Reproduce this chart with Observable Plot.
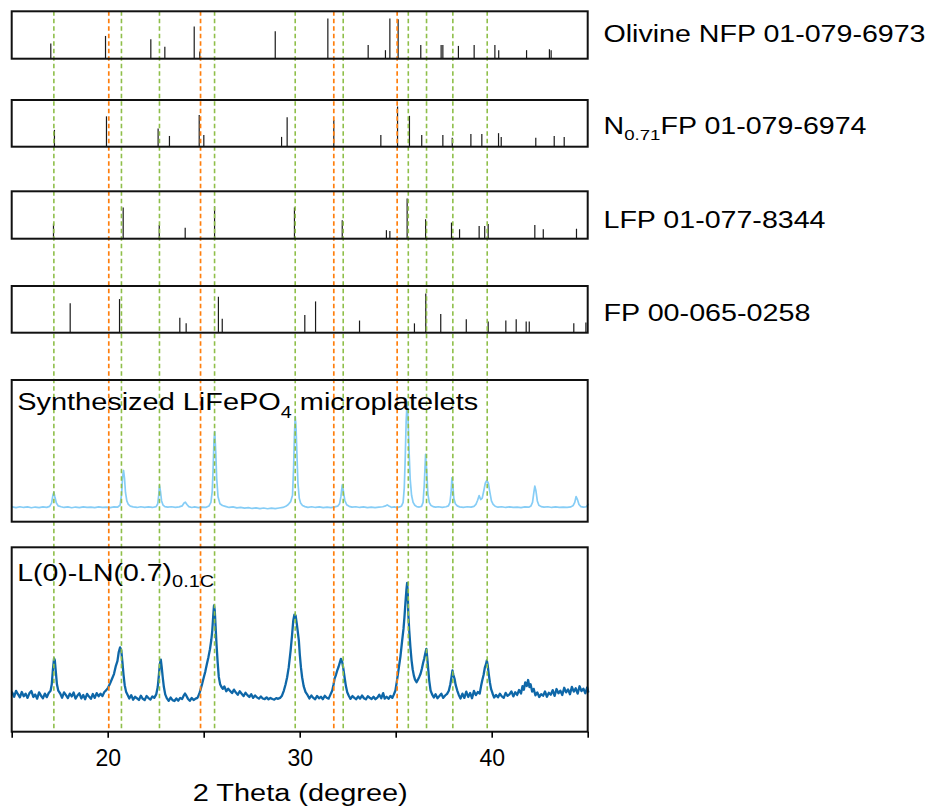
<!DOCTYPE html>
<html><head><meta charset="utf-8">
<script src="https://cdn.jsdelivr.net/npm/d3@7"></script>
<script src="https://cdn.jsdelivr.net/npm/@observablehq/plot@0.6"></script>
<style>
html,body{margin:0;padding:0;background:#fff;overflow:hidden;}
#chart{width:933px;height:808px;}
</style></head><body><div id="chart"></div>
<script>
// ---------------- DATA ----------------
// reference patterns: [2theta (deg), relative intensity (% of panel height)]
const olivineNFP = [[17.01,32],[19.86,48],[22.22,41],[22.95,25],[24.48,68],[24.77,15],[28.70,58],[31.44,85],[33.54,29],[34.44,18],[34.67,85],[35.10,83],[36.28,29],[37.34,29],[37.43,29],[38.24,27],[39.06,29],[40.14,29],[40.34,18],[41.79,18],[42.98,20],[43.07,18]];
const n071FP = [[17.20,36],[19.91,65],[22.60,39],[23.19,23],[24.74,68],[24.98,25],[29.03,21],[29.32,63],[31.75,57],[34.20,25],[35.07,86],[35.69,66],[36.33,25],[37.43,25],[37.92,19],[38.89,27],[39.46,27],[40.33,29],[40.47,21],[42.27,19],[43.23,23],[43.75,21]];
const lfp = [[17.15,32],[20.78,66],[22.66,29],[24.01,23],[25.54,68],[29.70,66],[32.19,39],[34.49,18],[34.67,16],[35.57,85],[36.53,41],[37.88,34],[38.30,20],[39.32,27],[39.61,27],[39.79,31],[42.22,29],[42.66,20],[44.39,21]];
const fp = [[18.02,63],[20.59,72],[23.73,32],[24.06,20],[25.74,77],[25.94,30],[30.24,38],[30.80,67],[33.09,26],[35.95,20],[36.54,84],[37.32,40],[38.65,29],[39.79,24],[40.71,26],[41.25,29],[41.77,24],[41.93,24],[44.25,20],[44.88,22]];

// measured patterns: [2theta (deg), intensity (% of panel height)]
const synthesized = [[15.0,10.8],[15.2,10.3],[15.4,10.9],[15.6,10.4],[15.8,10.8],[16.0,10.2],[16.2,10.7],[16.4,10.3],[16.6,10.8],[16.8,10.5],[16.95,11.2],[17.05,13.5],[17.12,19],[17.17,21.2],[17.22,18],[17.3,13.5],[17.4,11.5],[17.55,10.9],[17.7,10.4],[17.9,10.8],[18.1,10.2],[18.3,10.7],[18.5,10.3],[18.7,10.8],[18.9,10.4],[19.1,10.7],[19.3,10.3],[19.5,10.8],[19.7,10.4],[19.9,10.6],[20.1,10.3],[20.3,10.8],[20.5,10.7],[20.62,12],[20.7,20],[20.75,32],[20.8,36.5],[20.85,31],[20.9,21],[20.97,15],[21.05,12.5],[21.15,11.3],[21.3,10.8],[21.5,10.4],[21.7,10.9],[21.9,10.5],[22.1,10.8],[22.3,10.4],[22.5,11.0],[22.58,13],[22.63,19],[22.67,25.9],[22.72,22],[22.78,15],[22.86,12],[22.95,11],[23.1,10.6],[23.3,10.9],[23.5,10.5],[23.7,10.8],[23.85,11.5],[23.95,13.5],[24.02,14.1],[24.1,12.5],[24.2,11],[24.35,10.4],[24.5,10.8],[24.7,10.3],[24.9,10.7],[25.1,10.5],[25.25,11.5],[25.35,14],[25.42,22],[25.47,40],[25.51,58],[25.55,64],[25.6,50],[25.65,31],[25.72,18],[25.82,13],[25.95,11.8],[26.1,11.2],[26.3,10.4],[26.5,10.8],[26.7,10.1],[26.9,10.5],[27.1,9.9],[27.3,10.3],[27.5,9.7],[27.7,10.1],[27.9,9.6],[28.1,10.0],[28.3,9.5],[28.5,9.9],[28.7,9.6],[28.9,10.0],[29.1,10.4],[29.25,11.2],[29.38,12.5],[29.5,14.5],[29.6,19],[29.66,40],[29.7,62],[29.74,74.6],[29.78,68],[29.83,48],[29.88,28],[29.95,17],[30.02,13.5],[30.12,11.8],[30.25,11],[30.4,10.5],[30.6,10.9],[30.8,10.4],[31.0,10.8],[31.2,10.3],[31.4,10.7],[31.6,10.3],[31.8,10.8],[31.95,11.3],[32.05,13],[32.12,18],[32.19,26.4],[32.25,22],[32.32,15.5],[32.42,12.3],[32.55,11.2],[32.7,10.6],[32.9,10.9],[33.1,10.4],[33.3,10.8],[33.5,10.3],[33.7,10.7],[33.9,10.3],[34.1,10.6],[34.3,10.9],[34.45,11.5],[34.53,12.2],[34.62,11.4],[34.75,10.5],[34.9,10.8],[35.05,10.3],[35.18,10.8],[35.28,11.5],[35.36,14],[35.42,24],[35.47,45],[35.52,72],[35.57,84.7],[35.62,72],[35.67,50],[35.73,30],[35.8,19],[35.88,14],[35.97,12],[36.07,11],[36.2,10.7],[36.32,11.2],[36.4,14],[36.46,26],[36.53,47.8],[36.59,36],[36.65,20],[36.72,14],[36.8,12],[36.92,11],[37.05,10.6],[37.2,10.9],[37.4,10.5],[37.6,10.9],[37.72,11.5],[37.8,14],[37.86,21],[37.9,31.3],[37.95,26],[38.0,17],[38.08,13],[38.18,11.5],[38.3,10.8],[38.5,10.5],[38.7,10.9],[38.9,10.6],[39.05,11.2],[39.15,12.5],[39.24,15.5],[39.32,18.8],[39.4,16],[39.48,17],[39.56,22],[39.64,27.5],[39.72,29.4],[39.8,27.5],[39.88,21],[39.96,15],[40.05,12.5],[40.15,11.3],[40.3,10.6],[40.5,10.9],[40.7,10.4],[40.9,10.8],[41.1,10.4],[41.3,10.7],[41.5,10.3],[41.7,10.8],[41.9,10.6],[42.02,11.5],[42.1,14],[42.17,21],[42.22,25.4],[42.28,22],[42.35,15],[42.43,12],[42.55,11],[42.7,10.6],[42.9,10.9],[43.1,10.4],[43.3,10.8],[43.5,10.4],[43.7,10.7],[43.9,10.4],[44.1,10.8],[44.22,11.8],[44.3,14],[44.37,18.1],[44.44,16],[44.52,12.5],[44.62,11],[44.75,10.6],[44.9,10.9],[45.0,12.5]];

const lnCycled = [[15.0,21.5],[15.1,19.2],[15.2,22.4],[15.3,20.6],[15.4,18.9],[15.5,21.8],[15.6,19.5],[15.7,20.9],[15.8,18.6],[15.9,21.2],[16.0,22.3],[16.1,19.1],[16.2,20.4],[16.3,18.2],[16.4,21.6],[16.5,19.8],[16.6,18.4],[16.7,20.9],[16.8,19.0],[16.9,21.3],[17.0,22.5],[17.06,26],[17.12,34],[17.18,40],[17.22,39],[17.27,33],[17.33,26],[17.4,22.5],[17.5,21],[17.6,18.7],[17.7,21.6],[17.8,20.1],[17.9,18.5],[18.0,20.9],[18.1,19.4],[18.2,21.5],[18.3,18.2],[18.4,19.9],[18.5,21.1],[18.6,18.3],[18.7,20.2],[18.8,17.9],[18.9,20.8],[19.0,19.3],[19.1,18.1],[19.2,20.7],[19.3,18.6],[19.4,21.2],[19.5,19.5],[19.6,20.9],[19.7,19.6],[19.8,21.8],[19.9,22.8],[20.0,24.2],[20.1,26.5],[20.2,29],[20.3,31.5],[20.4,36],[20.48,38.5],[20.55,43.5],[20.62,46],[20.68,44.5],[20.74,38],[20.8,31],[20.86,25.5],[20.93,22],[21.0,20.5],[21.1,18.3],[21.2,20.1],[21.3,17.6],[21.4,19.2],[21.5,18.4],[21.6,17.5],[21.7,19.8],[21.8,18.1],[21.9,17.4],[22.0,19.6],[22.1,18.5],[22.2,17.7],[22.3,19.4],[22.4,18.6],[22.5,20.5],[22.58,24.5],[22.64,31],[22.69,37],[22.74,39.3],[22.79,35],[22.84,29.8],[22.9,24.5],[22.97,20.5],[23.05,18.5],[23.15,17.0],[23.25,18.8],[23.35,17.4],[23.45,16.9],[23.55,18.3],[23.65,17.1],[23.75,18.6],[23.85,18.0],[23.93,19.8],[24.0,21],[24.07,19.8],[24.15,18.2],[24.25,17.0],[24.35,18.6],[24.45,17.4],[24.55,18.2],[24.65,18.6],[24.75,21],[24.82,23.5],[24.9,26.5],[24.98,29.8],[25.06,33],[25.14,37],[25.22,40.7],[25.3,45],[25.37,50],[25.42,55],[25.47,63],[25.51,68.7],[25.55,66],[25.6,56],[25.64,48],[25.7,38],[25.76,30],[25.83,26],[25.9,24.5],[25.97,23.5],[26.05,24.8],[26.15,22.2],[26.25,23.6],[26.35,22.4],[26.45,21.2],[26.55,23.1],[26.65,21.5],[26.75,20.3],[26.85,22.2],[26.95,20.9],[27.05,19.6],[27.15,21.4],[27.25,20.1],[27.35,19.1],[27.45,20.6],[27.55,18.6],[27.65,19.9],[27.75,18.9],[27.85,18.2],[27.95,19.4],[28.05,18.3],[28.15,17.9],[28.25,18.9],[28.35,17.8],[28.45,18.6],[28.55,18.0],[28.65,17.7],[28.75,18.5],[28.85,18.1],[28.95,18.6],[29.05,19.8],[29.15,22.6],[29.24,26],[29.32,29.8],[29.4,35],[29.5,44.3],[29.57,52],[29.64,60.6],[29.7,63.8],[29.76,63.3],[29.82,59],[29.88,54],[29.93,49.7],[29.98,42],[30.04,35],[30.1,29.8],[30.18,25],[30.28,21.7],[30.38,20.2],[30.48,18.3],[30.58,19.9],[30.68,18.6],[30.78,17.9],[30.88,19.7],[30.98,18.4],[31.08,19.2],[31.18,17.9],[31.28,19.8],[31.38,18.7],[31.48,18.2],[31.58,20.5],[31.67,22.6],[31.74,26],[31.79,29],[31.86,31],[31.93,33.5],[32.0,35.5],[32.07,38],[32.12,39.8],[32.18,38.5],[32.24,35],[32.31,29.8],[32.38,25],[32.45,21.7],[32.53,19.8],[32.62,18.1],[32.72,19.6],[32.82,18.6],[32.92,17.9],[33.02,19.4],[33.12,18.2],[33.22,19.9],[33.32,18.4],[33.42,17.8],[33.52,19.5],[33.62,18.7],[33.72,18.0],[33.82,19.2],[33.92,17.9],[34.02,18.8],[34.12,20.3],[34.22,18.4],[34.32,21.2],[34.4,18.2],[34.5,19.2],[34.6,18.1],[34.7,19.7],[34.8,18.6],[34.88,20.5],[34.96,22.6],[35.04,28],[35.14,35.2],[35.22,41],[35.31,49.7],[35.38,56],[35.43,62.4],[35.48,70],[35.53,77],[35.57,81],[35.6,76],[35.63,64.2],[35.68,55],[35.74,46.1],[35.8,39],[35.86,34],[35.92,30.7],[35.98,28.5],[36.06,27.1],[36.13,28.5],[36.2,30],[36.27,31.7],[36.34,34.5],[36.4,37.5],[36.46,40],[36.52,43],[36.57,45.2],[36.62,40],[36.67,34],[36.72,28],[36.79,22.6],[36.87,20.5],[36.96,18.8],[37.05,20.6],[37.15,18.4],[37.25,19.6],[37.35,20.9],[37.45,18.6],[37.55,19.9],[37.65,20.8],[37.74,22.5],[37.82,26],[37.88,30],[37.93,33.5],[37.98,31],[38.04,29],[38.1,25.5],[38.18,22.6],[38.26,20.2],[38.35,18.3],[38.45,20.9],[38.55,18.6],[38.65,22.0],[38.75,19.1],[38.85,21.3],[38.95,18.4],[39.05,22.4],[39.15,20.1],[39.25,21.8],[39.35,21],[39.42,25],[39.48,28],[39.55,31],[39.62,35.2],[39.68,37],[39.72,38.9],[39.77,36],[39.82,31.5],[39.88,27],[39.94,23.5],[40.02,21],[40.1,18.8],[40.2,20.2],[40.3,18.9],[40.4,20.9],[40.5,19.4],[40.6,18.6],[40.7,21.3],[40.8,19.7],[40.9,20.5],[41.0,22.1],[41.1,19.4],[41.2,21.7],[41.3,20.2],[41.4,22.9],[41.5,21],[41.58,25],[41.65,23],[41.72,27],[41.8,25],[41.87,28.3],[41.94,24.5],[42.0,26],[42.08,22],[42.16,23.5],[42.25,20],[42.35,21.6],[42.45,19.1],[42.55,20.6],[42.65,19.8],[42.75,22.1],[42.85,19.2],[42.95,21.4],[43.05,20.3],[43.15,22.8],[43.25,19.7],[43.35,23.4],[43.45,21.1],[43.55,22.5],[43.65,20.2],[43.75,24.1],[43.85,21.6],[43.95,23.2],[44.05,20.6],[44.15,24.6],[44.25,22.0],[44.35,23.8],[44.45,20.9],[44.55,24.9],[44.65,22.3],[44.75,23.6],[44.85,21.1],[44.95,24.3],[45.0,22]];

// guide lines (2theta)
const greenLines = [17.17, 20.69, 22.67, 25.54, 29.74, 32.24, 35.63, 36.58, 37.95, 39.74];
const orangeLines = [20.03, 24.81, 31.75, 35.05];

// texts
const panelLabels = ["Olivine NFP 01-079-6973", "N0.71FP 01-079-6974", "LFP 01-077-8344", "FP 00-065-0258"];
const traceLabels = ["Synthesized LiFePO4 microplatelets", "L(0)-LN(0.7)0.1C"];
const xTicks = [15, 20, 25, 30, 35, 40, 45];
const xTickLabels = [20, 30, 40];
const xLabel = "2 Theta (degree)";

// ---------------- LAYOUT ----------------
const panelBox = [
  {top: 11.3, bottom: 58.7}, {top: 100, bottom: 146.7}, {top: 191.3, bottom: 238.7},
  {top: 286, bottom: 332.7}, {top: 380, bottom: 521.7}, {top: 547.3, bottom: 731.7}
];
const labelBaseline = [41.7, 133.3, 227.3, 320];
const traceLabelBaseline = [409.3, 580];
const toY = (p, v) => panelBox[p].bottom - v / 100 * (panelBox[p].bottom - panelBox[p].top);

const sticks = [olivineNFP, n071FP, lfp, fp].flatMap((set, p) => set.map(([t, v]) => ({t, v, p})));

const FONT = "'Liberation Sans', Arial, Helvetica, sans-serif";

const chart = Plot.plot({
  width: 933, height: 808,
  marginLeft: 11.7, marginRight: 345.3, marginTop: 0, marginBottom: 76.3,
  style: {fontFamily: FONT, fontSize: "23px", background: "#fff", color: "#000"},
  x: {domain: [15, 45]},
  y: {domain: [0, 731.7], range: [0, 731.7], axis: null},
  marks: [
    Plot.ruleX(sticks, {x: "t", y1: d => toY(d.p, 0), y2: d => toY(d.p, d.v), stroke: "#1a1a1a", strokeWidth: 1.2}),
    Plot.line(synthesized, {x: d => d[0], y: d => toY(4, d[1]), stroke: "#86cdf6", strokeWidth: 1.7}),
    Plot.line(lnCycled, {x: d => d[0], y: d => toY(5, d[1]), stroke: "#0e67a8", strokeWidth: 2.3}),
    Plot.ruleX(greenLines, {y1: panelBox[0].top, y2: panelBox[5].bottom, stroke: "#8fbf4a", strokeWidth: 1.6, strokeDasharray: "4.5,3"}),
    Plot.ruleX(orangeLines, {y1: panelBox[0].top, y2: panelBox[5].bottom, stroke: "#ff7f0e", strokeWidth: 1.7, strokeDasharray: "4.5,3"}),
    Plot.rect(panelBox, {x1: 15, x2: 45, y1: "top", y2: "bottom", fill: "none", stroke: "#111", strokeWidth: 2}),
    Plot.axisX({ticks: xTicks, tickFormat: d => xTickLabels.includes(d) ? String(d) : "", tickSize: 6, tickPadding: 11, fontSize: 23, strokeWidth: 1.6, label: null}),
    Plot.text(panelLabels, {x: 45, dx: 15.3, y: (d, i) => labelBaseline[i], text: d => d, textAnchor: "start", lineAnchor: "bottom", fontSize: 23}),
    Plot.text(traceLabels, {x: 15, dx: 5, y: (d, i) => traceLabelBaseline[i], text: d => d, textAnchor: "start", lineAnchor: "bottom", fontSize: 23.5}),
    Plot.text([xLabel], {x: 30, y: 800, text: d => d, textAnchor: "middle", lineAnchor: "bottom", fontSize: 23})
  ]
});

// rich text: subscripts and measured text widths
const rich = {
  "Olivine NFP 01-079-6973": {parts: [["Olivine NFP 01-079-6973"]], len: 322},
  "N0.71FP 01-079-6974": {parts: [["N"], ["0.71", 1], ["FP 01-079-6974"]], len: 263, sub: 6.5, size: 15},
  "LFP 01-077-8344": {parts: [["LFP 01-077-8344"]], len: 222},
  "FP 00-065-0258": {parts: [["FP 00-065-0258"]], len: 207},
  "Synthesized LiFePO4 microplatelets": {parts: [["Synthesized LiFePO"], ["4", 1], [" microplatelets"]], len: 461, sub: 8.5, size: 16},
  "L(0)-LN(0.7)0.1C": {parts: [["L(0)-LN(0.7)"], ["0.1C", 1]], len: 197, sub: 6.7, size: 16.5},
  "2 Theta (degree)": {parts: [["2 Theta (degree)"]], len: 215}
};
const NS = "http://www.w3.org/2000/svg";
chart.querySelectorAll("text").forEach(t => {
  const r = rich[t.textContent];
  if (!r) return;
  t.textContent = "";
  let down = false;
  for (const [s, isSub] of r.parts) {
    const ts = document.createElementNS(NS, "tspan");
    ts.textContent = s;
    if (isSub) { ts.setAttribute("dy", r.sub); ts.setAttribute("font-size", r.size); down = true; }
    else if (down) { ts.setAttribute("dy", -r.sub); down = false; }
    t.appendChild(ts);
  }
  t.setAttribute("textLength", r.len);
  t.setAttribute("lengthAdjust", "spacingAndGlyphs");
});

document.getElementById("chart").appendChild(chart);
</script></body></html>
